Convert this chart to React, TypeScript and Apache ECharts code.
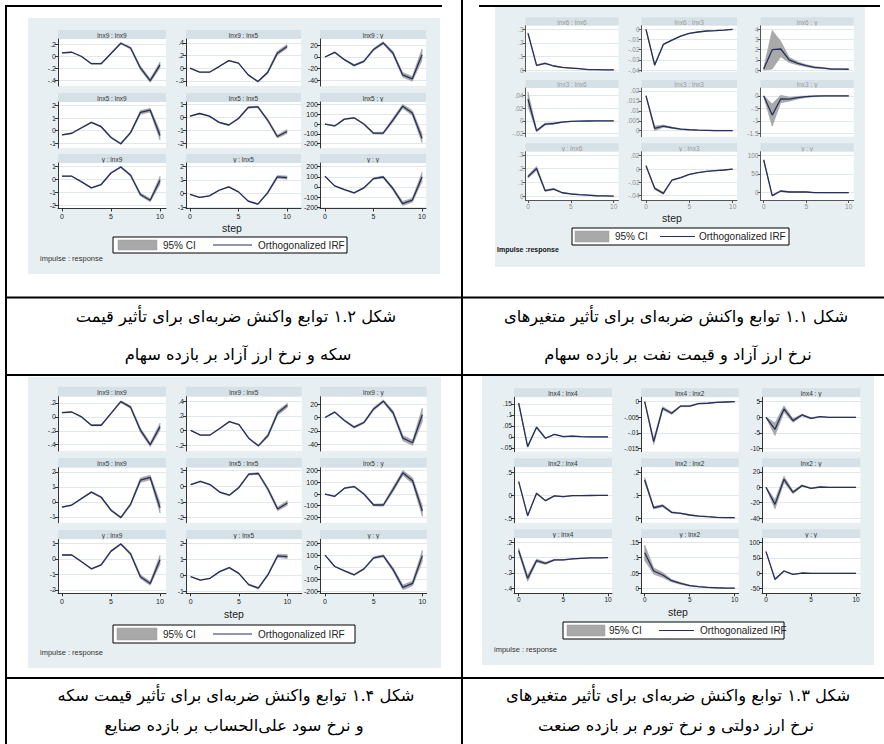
import React, { useEffect, useRef } from "react";
import * as echarts from "echarts";

// ---------- data ----------
const steps = [0, 1, 2, 3, 4, 5, 6, 7, 8, 9, 10];

// Figure A (used by fig 1.2 and fig 1.4): impulse lnx9, lnx5, y
const A_titles = ["lnx9 : lnx9", "lnx9 : lnx5", "lnx9 : y", "lnx5 : lnx9", "lnx5 : lnx5", "lnx5 : y", "y : lnx9", "y : lnx5", "y : y"];
const A_lnx9_lnx9 = [0.06, 0.07, 0.0, -0.12, -0.12, 0.05, 0.22, 0.14, -0.19, -0.4, -0.14];
const A_lnx9_lnx9_ci = [0.005, 0.005, 0.005, 0.008, 0.008, 0.01, 0.012, 0.018, 0.03, 0.03, 0.05];
const A_lnx9_lnx5 = [0.0, -0.063, -0.063, 0.026, 0.12, 0.08, -0.105, -0.21, -0.068, 0.237, 0.342];
const A_lnx9_lnx5_ci = [0.003, 0.004, 0.004, 0.005, 0.006, 0.006, 0.008, 0.01, 0.02, 0.03, 0.03];
const A_lnx9_y = [0, 8, -4.6, -14.5, -7.5, 12.8, 24.3, 7, -30.7, -37.7, 4];
const A_lnx9_y_ci = [0.5, 1, 1, 1.5, 1.5, 2, 2, 3, 4, 4, 10];
const A_lnx5_lnx9 = [-0.34, -0.21, 0.23, 0.65, 0.31, -0.55, -1.04, -0.16, 1.44, 1.62, -0.39];
const A_lnx5_lnx9_ci = [0.03, 0.03, 0.04, 0.04, 0.05, 0.06, 0.06, 0.08, 0.15, 0.15, 0.35];
const A_lnx5_lnx5 = [0.1, 0.3, 0.1, -0.38, -0.58, -0.08, 0.76, 0.81, -0.2, -1.46, -1.08];
const A_lnx5_lnx5_ci = [0.02, 0.03, 0.03, 0.04, 0.04, 0.05, 0.05, 0.06, 0.1, 0.12, 0.15];
const A_lnx5_y = [0, -20, 50, 64, 0, -94, -94, 40, 182, 114, -145];
const A_lnx5_y_ci = [2, 4, 5, 5, 6, 8, 10, 20, 20, 25, 45];
const A_y_lnx9 = [0.26, 0.26, -0.18, -0.64, -0.38, 0.51, 0.97, 0.33, -1.15, -1.59, -0.05];
const A_y_lnx9_ci = [0.02, 0.02, 0.03, 0.03, 0.04, 0.05, 0.05, 0.08, 0.12, 0.12, 0.3];
const A_y_lnx5 = [-0.07, -0.29, -0.17, 0.24, 0.49, 0.12, -0.56, -0.78, 0.05, 1.22, 1.17];
const A_y_lnx5_ci = [0.01, 0.02, 0.02, 0.03, 0.03, 0.03, 0.04, 0.05, 0.06, 0.1, 0.12];
const A_y_y = [105, 10, -26, -59, -10, 82, 98, -16, -164, -131, 98];
const A_y_y_ci = [2, 3, 4, 5, 6, 8, 10, 15, 20, 20, 45];
const A_ticks = [
  [-0.4, -0.2, 0, 0.2], [-0.2, 0, 0.2, 0.4], [-40, -20, 0, 20],
  [-1, 0, 1, 2], [-2, -1, 0, 1], [-200, -100, 0, 100, 200],
  [-2, -1, 0, 1], [-1, 0, 1, 2], [-200, -100, 0, 100, 200],
];
const A_ranges = [
  [-0.49, 0.29], [-0.28, 0.46], [-50, 31],
  [-1.38, 2.27], [-2.34, 1.18], [-246, 226],
  [-2.23, 1.28], [-1.1, 2.24], [-213, 236],
];

// Figure B (fig 1.1): impulse lnx6, lnx3, y
const B_titles = ["lnx6 : lnx6", "lnx6 : lnx3", "lnx6 : y", "lnx3 : lnx6", "lnx3 : lnx3", "lnx3 : y", "y : lnx6", "y : lnx3", "y : y"];
const B_lnx6_lnx6 = [0.27, 0.035, 0.05, 0.03, 0.02, 0.015, 0.01, 0.004, 0.003, 0.002, 0.001];
const B_lnx6_lnx6_ci = [0.005, 0.004, 0.004, 0.003, 0.002, 0.002, 0.001, 0.001, 0.001, 0.001, 0.001];
const B_lnx6_lnx3 = [0, -0.035, -0.0148, -0.0105, -0.0066, -0.0039, -0.0026, -0.0016, -0.0013, -0.0007, 0];
const B_lnx6_lnx3_ci = [0.0002, 0.0008, 0.0006, 0.0004, 0.0003, 0.0002, 0.0002, 0.0001, 0.0001, 0.0001, 0.0001];
const B_lnx6_y = [0.1, 2.0, 2.07, 1.0, 0.66, 0.43, 0.26, 0.2, 0.1, 0.1, 0.08];
const B_lnx6_y_ci = [0.1, 1.9, 0.75, 0.25, 0.15, 0.1, 0.08, 0.05, 0.04, 0.03, 0.03];
const B_lnx3_lnx6 = [0.034, -0.0156, -0.0052, -0.0042, -0.002, -0.001, -0.0005, -0.0003, -0.0002, -0.0001, 0];
const B_lnx3_lnx6_ci = [0.011, 0.0015, 0.0015, 0.001, 0.0005, 0.0003, 0.0002, 0.0001, 0.0001, 0.0001, 0.0001];
const B_lnx3_lnx3 = [0.0175, 0.0012, 0.0023, 0.0015, 0.0008, 0.0005, 0.0003, 0.0002, 0.0001, 0.0001, 0.0001];
const B_lnx3_lnx3_ci = [0.0003, 0.0012, 0.0005, 0.0003, 0.0002, 0.0001, 0.0001, 0.0001, 0.0001, 0.0001, 0.0001];
const B_lnx3_y = [0, -0.77, -0.12, -0.13, -0.07, -0.03, -0.01, 0, 0, 0, 0];
const B_lnx3_y_ci = [0.02, 0.45, 0.15, 0.08, 0.05, 0.03, 0.02, 0.01, 0.01, 0.01, 0.01];
const B_y_lnx6 = [0.141, 0.202, 0.039, 0.051, 0.024, 0.015, 0.01, 0.007, 0.002, 0.001, 0];
const B_y_lnx6_ci = [0.01, 0.015, 0.006, 0.005, 0.003, 0.002, 0.002, 0.001, 0.001, 0.001, 0.001];
const B_y_lnx3 = [0.005, -0.029, -0.0365, -0.0165, -0.013, -0.008, -0.0055, -0.0035, -0.0025, -0.0015, 0];
const B_y_lnx3_ci = [0.0003, 0.0015, 0.0015, 0.0008, 0.0005, 0.0003, 0.0002, 0.0002, 0.0001, 0.0001, 0.0001];
const B_y_y = [86.7, -8, 4.4, 1.8, 1.8, 1.8, 0, 0, 0, 0, 0];
const B_y_y_ci = [1, 1.5, 1, 0.5, 0.5, 0.3, 0.2, 0.1, 0.1, 0.1, 0.1];
const B_ticks = [
  [0, 0.1, 0.2, 0.3], [-0.04, -0.03, -0.02, -0.01, 0], [0, 1, 2, 3, 4],
  [-0.02, 0, 0.02, 0.04], [0, 0.005, 0.01, 0.015, 0.02], [-1.5, -1, -0.5, 0],
  [0, 0.1, 0.2, 0.3], [-0.04, -0.02, 0, 0.02], [0, 50, 100],
];
const B_ranges = [
  [-0.012, 0.327], [-0.0416, 0.0036], [-0.16, 4.36],
  [-0.0249, 0.0514], [-0.003, 0.0215], [-1.64, 0.32],
  [-0.029, 0.324], [-0.0465, 0.026], [-19.5, 108.8],
];

// Figure C (fig 1.3): impulse lnx4, lnx2, y
const C_titles = ["lnx4 : lnx4", "lnx4 : lnx2", "lnx4 : y", "lnx2 : lnx4", "lnx2 : lnx2", "lnx2 : y", "y : lnx4", "y : lnx2", "y : y"];
const C_lnx4_lnx4 = [0.153, -0.044, 0.044, -0.006, 0.012, 0.0015, 0.004, 0.001, 0, 0, 0];
const C_lnx4_lnx4_ci = [0.002, 0.003, 0.003, 0.002, 0.001, 0.001, 0.001, 0.001, 0.001, 0.001, 0.001];
const C_lnx4_lnx2 = [0, -0.0128, -0.0021, -0.0037, -0.0014, -0.0014, -0.0006, -0.0005, -0.0002, -0.0001, 0];
const C_lnx4_lnx2_ci = [0.00005, 0.0009, 0.0005, 0.0004, 0.0002, 0.0002, 0.0001, 0.0001, 0.00005, 0.00005, 0.00005];
const C_lnx4_y = [0, -3.85, 2.68, -1.07, 0.75, -0.32, 0.2, 0, 0, 0, 0];
const C_lnx4_y_ci = [0.1, 2, 1, 0.6, 0.3, 0.2, 0.1, 0.05, 0.05, 0.05, 0.05];
const C_lnx2_lnx4 = [0.297, -0.442, 0.043, -0.116, -0.01, -0.03, -0.007, -0.005, -0.003, -0.002, 0];
const C_lnx2_lnx4_ci = [0.005, 0.01, 0.01, 0.008, 0.005, 0.004, 0.003, 0.002, 0.002, 0.002, 0.002];
const C_lnx2_lnx2 = [0.167, 0.046, 0.055, 0.026, 0.022, 0.0145, 0.01, 0.007, 0.0045, 0.003, 0.003];
const C_lnx2_lnx2_ci = [0.01, 0.005, 0.005, 0.003, 0.002, 0.002, 0.001, 0.001, 0.001, 0.001, 0.001];
const C_lnx2_y = [0, -22.2, 10.4, -6.5, 2.2, -1.3, 0.4, 0, 0, 0, 0];
const C_lnx2_y_ci = [0.3, 6, 4, 2, 1, 0.5, 0.3, 0.2, 0.1, 0.1, 0.1];
const C_y_lnx4 = [0.091, -0.27, -0.039, -0.074, -0.03, -0.03, -0.017, -0.009, -0.004, -0.004, 0];
const C_y_lnx4_ci = [0.03, 0.04, 0.02, 0.015, 0.008, 0.005, 0.003, 0.002, 0.002, 0.001, 0.001];
const C_y_lnx2 = [0.116, 0.0565, 0.0435, 0.025, 0.016, 0.0087, 0.0054, 0.0033, 0.002, 0.001, 0.001];
const C_y_lnx2_ci = [0.025, 0.01, 0.008, 0.004, 0.003, 0.002, 0.001, 0.001, 0.0005, 0.0005, 0.0005];
const C_y_y = [70.7, -19.6, 7.6, -3.3, 1, 0, 0, 0, 0, 0, 0];
const C_y_y_ci = [1, 3, 1.5, 0.8, 0.5, 0.3, 0.2, 0.1, 0.1, 0.1, 0.1];
const C_ticks = [
  [-0.05, 0, 0.05, 0.1, 0.15], [-0.015, -0.01, -0.005, 0], [-10, -5, 0, 5],
  [-0.5, 0, 0.5], [0, 0.1, 0.2], [-40, -20, 0, 20],
  [-0.4, -0.2, 0, 0.2], [0, 0.05, 0.1, 0.15], [-50, 0, 50, 100],
];
const C_ranges = [
  [-0.067, 0.18], [-0.016, 0.0014], [-11, 6.4],
  [-0.594, 0.609], [-0.019, 0.222], [-46, 26],
  [-0.465, 0.252], [-0.016, 0.163], [-65, 114],
];

const xTicks = [0, 5, 10];
const legendCI = "95% CI";
const legendIRF = "Orthogonalized IRF";

const captions = {
  topLeft: ["شکل ۱.۲ توابع واکنش ضربه\u200cای برای تأثیر قیمت", "سکه و نرخ ارز آزاد بر بازده سهام"],
  topRight: ["شکل ۱.۱ توابع واکنش ضربه\u200cای برای تأثیر متغیرهای", "نرخ ارز آزاد و قیمت نفت بر بازده سهام"],
  bottomLeft: ["شکل ۱.۴ توابع واکنش ضربه\u200cای برای تأثیر قیمت سکه", "و نرخ سود علی\u200cالحساب بر بازده صنایع"],
  bottomRight: ["شکل ۱.۳ توابع واکنش ضربه\u200cای برای تأثیر متغیرهای", "نرخ ارز دولتی و نرخ تورم بر بازده صنعت"],
};

// ---------- styling ----------
const NAVY = "#26305c";
const BAND = "#a9a9a9";
const FIG_BG = "#e8eff2";
const STRIP = "#d6e1e7";
const GRIDLINE = "#e0e8ec";
const FONT = "'Liberation Sans', Arial, sans-serif";
const FA_FONT = "'DejaVu Sans', sans-serif";

const A_irf = [A_lnx9_lnx9, A_lnx9_lnx5, A_lnx9_y, A_lnx5_lnx9, A_lnx5_lnx5, A_lnx5_y, A_y_lnx9, A_y_lnx5, A_y_y];
const A_ci = [A_lnx9_lnx9_ci, A_lnx9_lnx5_ci, A_lnx9_y_ci, A_lnx5_lnx9_ci, A_lnx5_lnx5_ci, A_lnx5_y_ci, A_y_lnx9_ci, A_y_lnx5_ci, A_y_y_ci];
const B_irf = [B_lnx6_lnx6, B_lnx6_lnx3, B_lnx6_y, B_lnx3_lnx6, B_lnx3_lnx3, B_lnx3_y, B_y_lnx6, B_y_lnx3, B_y_y];
const B_ci = [B_lnx6_lnx6_ci, B_lnx6_lnx3_ci, B_lnx6_y_ci, B_lnx3_lnx6_ci, B_lnx3_lnx3_ci, B_lnx3_y_ci, B_y_lnx6_ci, B_y_lnx3_ci, B_y_y_ci];
const C_irf = [C_lnx4_lnx4, C_lnx4_lnx2, C_lnx4_y, C_lnx2_lnx4, C_lnx2_lnx2, C_lnx2_y, C_y_lnx4, C_y_lnx2, C_y_y];
const C_ci = [C_lnx4_lnx4_ci, C_lnx4_lnx2_ci, C_lnx4_y_ci, C_lnx2_lnx4_ci, C_lnx2_lnx2_ci, C_lnx2_y_ci, C_y_lnx4_ci, C_y_lnx2_ci, C_y_y_ci];

type Fig = {
  titles: string[]; irf: number[][]; ci: number[][]; ticks: number[][]; ranges: number[][];
  bg: number[]; rows: { s: number; p: number; b: number }[];
  cols: { l: number; r: number; x0: number; x10: number }[];
  xLabY: number; step: number[];
  leg: { x: number; y: number; w: number; h: number; sw: number[]; t1: number; ln: number[]; t2: number };
  imp: number[]; impText: string; impBold: boolean;
  stripColor: string; tickColor: string; tickSize: number; axisColor: string;
};

const figs: Fig[] = [
  {
    titles: A_titles, irf: A_irf, ci: A_ci, ticks: A_ticks, ranges: A_ranges,
    bg: [28, 18, 440, 274],
    rows: [{ s: 30, p: 39, b: 86 }, { s: 93, p: 102, b: 148 }, { s: 154, p: 163, b: 208.5 }],
    cols: [{ l: 58, r: 166, x0: 62, x10: 160 }, { l: 186, r: 301, x0: 190, x10: 287 }, { l: 320, r: 426, x0: 325, x10: 422 }],
    xLabY: 217, step: [232, 228],
    leg: { x: 113, y: 237, w: 234, h: 16, sw: [118, 157], t1: 163, ln: [213, 252], t2: 258 },
    imp: [40, 258], impText: "impulse : response", impBold: false,
    stripColor: "#333", tickColor: "#222", tickSize: 7, axisColor: "#333",
  },
  {
    titles: B_titles, irf: B_irf, ci: B_ci, ticks: B_ticks, ranges: B_ranges,
    bg: [495, 7, 865, 267],
    rows: [{ s: 17.3, p: 25.7, b: 71.7 }, { s: 80, p: 88, b: 136.7 }, { s: 143.3, p: 151.7, b: 200 }],
    cols: [{ l: 525.5, r: 618.5, x0: 528, x10: 613.7 }, { l: 641.5, r: 737, x0: 646, x10: 732.7 }, { l: 760.5, r: 853.7, x0: 763.7, x10: 848.7 }],
    xLabY: 207, step: [672, 218],
    leg: { x: 572, y: 228, w: 217, h: 17, sw: [575, 609], t1: 615, ln: [660, 695], t2: 699 },
    imp: [497, 249], impText: "Impulse :response", impBold: true,
    stripColor: "#9a9a9a", tickColor: "#8c8c8c", tickSize: 6.5, axisColor: "#555",
  },
  {
    titles: A_titles, irf: A_irf, ci: A_ci, ticks: A_ticks, ranges: A_ranges,
    bg: [28, 377, 441, 668],
    rows: [{ s: 386.7, p: 396.7, b: 451 }, { s: 458, p: 467.7, b: 522.7 }, { s: 530, p: 539.3, b: 593.3 }],
    cols: [{ l: 58, r: 166, x0: 62, x10: 160 }, { l: 186, r: 301.7, x0: 190.7, x10: 287.3 }, { l: 320, r: 426.7, x0: 325, x10: 422.3 }],
    xLabY: 602, step: [234, 614],
    leg: { x: 113, y: 625, w: 242, h: 18, sw: [117, 157], t1: 163, ln: [213, 252], t2: 258 },
    imp: [40, 652], impText: "impulse : response", impBold: false,
    stripColor: "#333", tickColor: "#222", tickSize: 7, axisColor: "#333",
  },
  {
    titles: C_titles, irf: C_irf, ci: C_ci, ticks: C_ticks, ranges: C_ranges,
    bg: [482, 375, 874, 665],
    rows: [{ s: 388.3, p: 397.3, b: 451.7 }, { s: 458.3, p: 467.3, b: 522.7 }, { s: 529.3, p: 538.3, b: 593.3 }],
    cols: [{ l: 514, r: 612, x0: 518.7, x10: 608 }, { l: 641, r: 738.7, x0: 644.7, x10: 734.7 }, { l: 762, r: 860.3, x0: 766, x10: 856 }],
    xLabY: 600, step: [678, 612],
    leg: { x: 563, y: 622, w: 221, h: 17, sw: [567, 605], t1: 609, ln: [659, 694], t2: 700 },
    imp: [494, 649], impText: "impulse : response", impBold: false,
    stripColor: "#333", tickColor: "#222", tickSize: 6.5, axisColor: "#333",
  },
];

function stataFmt(v: number): string {
  if (v === 0) return "0";
  return String(v).replace(/^(-?)0\./, "$1.");
}

function bandRenderItem(params: any, api: any) {
  if (params.dataIndexInside !== 0) return null;
  const n = params.dataInsideLength;
  const top: number[][] = [];
  const bot: number[][] = [];
  for (let j = 0; j < n; j++) {
    const x = api.value(0, j);
    top.push(api.coord([x, api.value(2, j)]));
    bot.push(api.coord([x, api.value(1, j)]));
  }
  return {
    type: "polygon",
    shape: { points: top.concat(bot.reverse()) },
    style: { fill: BAND, stroke: "#9c9c9c", lineWidth: 0.6 },
  };
}

function buildOption() {
  const grid: any[] = [];
  const xAxis: any[] = [];
  const yAxis: any[] = [];
  const series: any[] = [];
  const graphic: any[] = [];

  const line = (x1: number, y1: number, x2: number, y2: number, w = 2) =>
    graphic.push({ type: "line", silent: true, shape: { x1, y1, x2, y2 }, style: { stroke: "#000", lineWidth: w } });
  const text = (t: string, x: number, y: number, o: any = {}) =>
    graphic.push({
      type: "text", silent: true, x, y,
      style: { text: t, fill: o.fill || "#222", fontSize: o.size || 8, fontFamily: o.family || FONT, fontWeight: o.weight || "normal", align: o.align || "center", verticalAlign: "middle" },
    });

  figs.forEach((fig) => {
    const [bx1, by1, bx2, by2] = fig.bg;
    graphic.push({ type: "rect", silent: true, shape: { x: bx1, y: by1, width: bx2 - bx1, height: by2 - by1 }, style: { fill: FIG_BG } });

    for (let i = 0; i < 9; i++) {
      const ri = Math.floor(i / 3);
      const r = fig.rows[ri];
      const c = fig.cols[i % 3];
      const k = grid.length;
      graphic.push({ type: "rect", silent: true, shape: { x: c.l, y: r.s, width: c.r - c.l, height: r.p - r.s }, style: { fill: STRIP } });
      text(fig.titles[i], (c.l + c.r) / 2, (r.s + r.p) / 2 + 0.5, { size: 6.5, fill: fig.stripColor });

      grid.push({ left: c.l, top: r.p, width: c.r - c.l, height: r.b - r.p, show: true, backgroundColor: "#ffffff", borderWidth: 0, z: 1 });
      const unit = (c.x10 - c.x0) / 10;
      const isBottom = ri === 2;
      xAxis.push({
        type: "value", gridIndex: k, min: -(c.x0 - c.l) / unit, max: 10 + (c.r - c.x10) / unit,
        show: isBottom, z: 6,
        axisLine: { show: true, onZero: false, lineStyle: { color: fig.axisColor, width: 1 } },
        axisTick: { show: true, customValues: xTicks, length: 3, lineStyle: { color: fig.axisColor } },
        axisLabel: { show: true, customValues: xTicks, fontSize: fig.tickSize, color: fig.tickColor, fontFamily: FONT, margin: fig.xLabY - r.b - 4 },
        splitLine: { show: false },
      });
      const ticks = fig.ticks[i];
      const rng = fig.ranges[i];
      yAxis.push({
        type: "value", gridIndex: k, min: rng[0], max: rng[1], z: 6,
        axisLine: { show: true, onZero: false, lineStyle: { color: fig.axisColor, width: 1 } },
        axisTick: { show: true, customValues: ticks, length: 3, lineStyle: { color: fig.axisColor } },
        axisLabel: { show: true, customValues: ticks, formatter: (v: number) => stataFmt(v), fontSize: fig.tickSize, color: fig.tickColor, fontFamily: FONT, margin: 2 },
        splitLine: { show: false },
      });
      const irf = fig.irf[i];
      const ci = fig.ci[i];
      series.push({
        type: "custom", xAxisIndex: k, yAxisIndex: k, silent: true, z: 3,
        data: steps.map((s, j) => [s, irf[j] - ci[j], irf[j] + ci[j]]),
        encode: { x: 0, y: [1, 2] },
        renderItem: bandRenderItem,
      });
      series.push({
        type: "line", xAxisIndex: k, yAxisIndex: k,
        data: steps.map((s, j) => [s, irf[j]]),
        symbol: "none", silent: true, z: 4, lineStyle: { color: NAVY, width: 1.3 },
        markLine: {
          silent: true, z: 2, symbol: ["none", "none"], label: { show: false },
          lineStyle: { color: GRIDLINE, width: 1, type: "solid" },
          emphasis: { disabled: true },
          data: ticks.map((v) => ({ yAxis: v })),
        },
      });
    }

    text("step", fig.step[0], fig.step[1], { size: 10.5, fill: "#222" });
    const L = fig.leg;
    graphic.push({ type: "rect", silent: true, shape: { x: L.x, y: L.y, width: L.w, height: L.h }, style: { fill: "#fff", stroke: "#000", lineWidth: 1 } });
    graphic.push({ type: "rect", silent: true, shape: { x: L.sw[0], y: L.y + 3, width: L.sw[1] - L.sw[0], height: L.h - 6 }, style: { fill: BAND, stroke: "#999", lineWidth: 0.5 } });
    text(legendCI, L.t1, L.y + L.h / 2, { size: 10, align: "left", fill: "#222" });
    graphic.push({ type: "line", silent: true, shape: { x1: L.ln[0], y1: L.y + L.h / 2, x2: L.ln[1], y2: L.y + L.h / 2 }, style: { stroke: NAVY, lineWidth: 1.2 } });
    text(legendIRF, L.t2, L.y + L.h / 2, { size: 10, align: "left", fill: "#222" });
    text(fig.impText, fig.imp[0], fig.imp[1], { size: fig.impBold ? 7 : 7.5, align: "left", fill: fig.impBold ? "#111" : "#333", weight: fig.impBold ? "bold" : "normal" });
  });

  // table lines
  line(6, 6, 442, 6);
  line(479, 6, 880, 6);
  line(6, 5, 6, 744);
  line(462, 0, 462, 744);
  line(6, 297.5, 884, 297.5);
  line(6, 375, 884, 375);
  line(6, 678, 884, 678);

  const cap = (t: string, x: number, y: number) => text(t, x, y, { size: 16.3, family: FA_FONT, fill: "#000" });
  cap(captions.topLeft[0], 236, 316);
  cap(captions.topLeft[1], 238, 354);
  cap(captions.topRight[0], 676, 316);
  cap(captions.topRight[1], 678, 354);
  cap(captions.bottomLeft[0], 236, 695);
  cap(captions.bottomLeft[1], 234, 725);
  cap(captions.bottomRight[0], 678, 695);
  cap(captions.bottomRight[1], 676, 725);

  return {
    animation: false,
    backgroundColor: "#ffffff",
    textStyle: { fontFamily: FONT },
    grid, xAxis, yAxis, series, graphic,
  };
}

export default function App() {
  const ref = useRef<HTMLDivElement>(null);
  useEffect(() => {
    if (!ref.current) return;
    const chart = echarts.init(ref.current, undefined, { renderer: "svg" });
    chart.setOption(buildOption() as any);
    return () => chart.dispose();
  }, []);
  return <div ref={ref} style={{ position: "fixed", left: 0, top: 0, width: 884, height: 744 }} />;
}
